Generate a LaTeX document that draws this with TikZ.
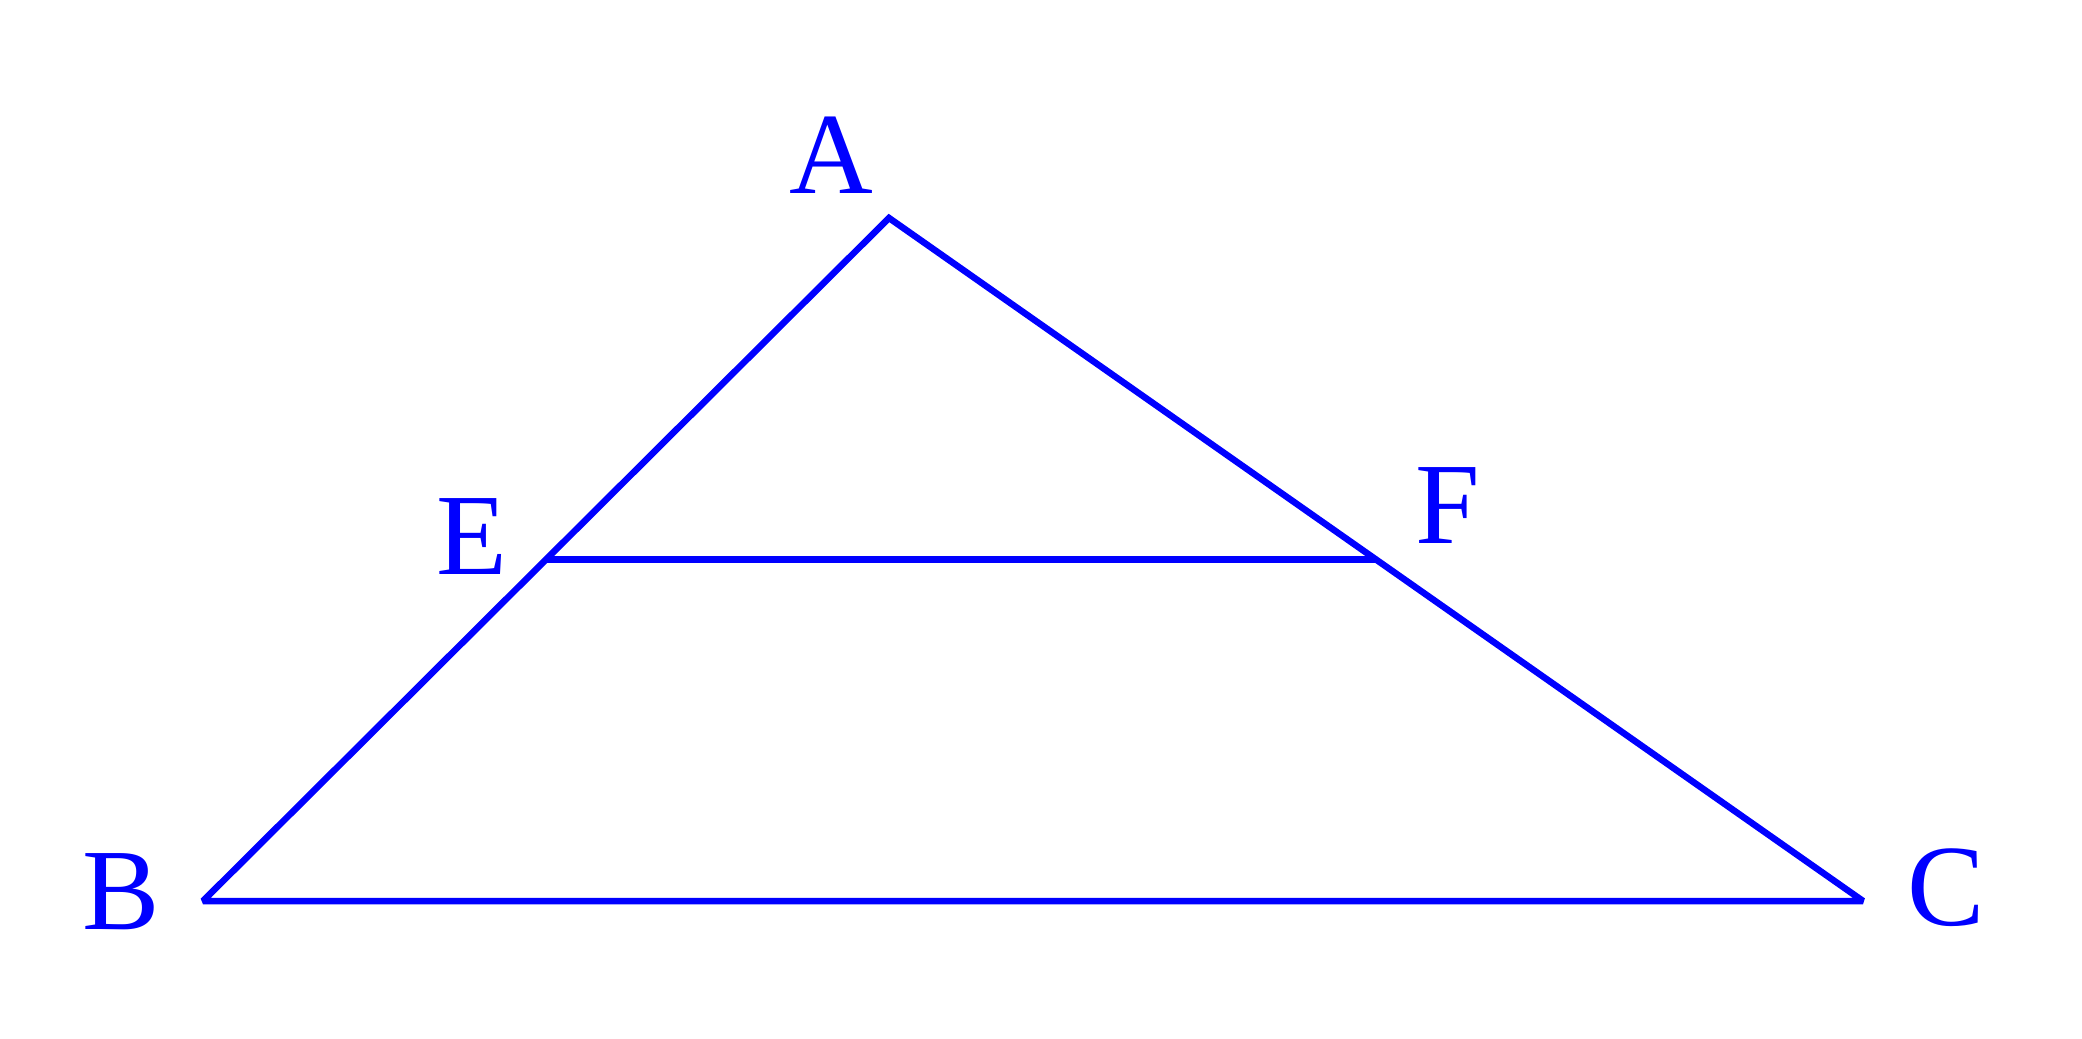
\documentclass[tikz,border=0pt]{standalone}
\usepackage{fontspec}
\setmainfont{Liberation Serif}
\usepackage{tikz}
\usetikzlibrary{positioning,calc}

\begin{document}
\begin{tikzpicture}[
    side/.style={draw=blue,line width=1.85pt,line join=miter,miter limit=2},
    vertex/.style={text=blue,inner sep=0pt,font=\fontsize{33}{40}\selectfont}
]
    \useasboundingbox (0,0) rectangle (20.82,10.38);
    \coordinate (A) at (8.89,8.20);
    \coordinate (B) at (2.03,1.37);
    \coordinate (C) at (18.63,1.37);
    \coordinate (E) at ($(A)!0.5!(B)$);
    \coordinate (F) at ($(A)!0.5!(C)$);

    \draw[side] (A) -- (B) -- (C) -- cycle;
    \draw[side] (E) -- (F);

    \node[vertex] (lA) at (8.31,8.83) {A};
    \node[vertex] (lB) at (1.21,1.46) {B};
    \node[vertex] (lC) at (19.46,1.50) {C};
    \node[vertex] (lE) at (4.72,5.01) {E};
    \node[vertex] (lF) at (14.48,5.32) {F};
\end{tikzpicture}
\end{document}
